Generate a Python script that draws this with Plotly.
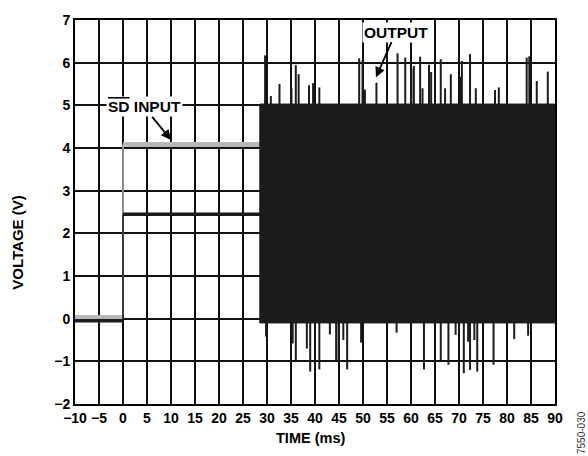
import plotly.graph_objects as go

# ---------------- data ----------------
x_ticks = list(range(-10, 95, 5))
x_ticktext = ["\u221210", "\u22125", "0", "5", "10", "15", "20", "25", "30", "35", "40",
              "45", "50", "55", "60", "65", "70", "75", "80", "85", "90"]
y_ticks = list(range(-2, 8))
y_ticktext = ["\u22122", "\u22121", "0", "1", "2", "3", "4", "5", "6", "7"]

# SD input (gray) step
sd_time = [-10, 0, 0, 28.7]
sd_volt = [0.04, 0.04, 4.08, 4.08]

# Output before switching (black)
out_time = [-10, 0, 0, 28.7]
out_volt = [-0.05, -0.05, 2.45, 2.45]

# Output switching envelope (dense PWM: 0 V <-> 5 V)
band_start, band_end = 28.5, 90.0
band_low, band_high = -0.1, 5.03

# Ringing spikes above the 5 V rail: (time ms, peak V)
spike_up_t = [29.6, 30.8, 32.6, 35.1, 36.0, 36.6, 38.75, 39.6, 40.9, 49.2, 49.9, 50.4,
              52.8, 57.2, 58.8, 60.1, 60.6, 61.9, 62.4, 63.75, 64.2, 66.2, 67.1, 68.3,
              70.4, 70.6, 72.3, 73.5, 77.5, 78.3, 84.1, 84.65, 86.2, 88.5]
spike_up_v = [6.17, 5.22, 5.5, 5.4, 5.94, 5.73, 5.47, 5.52, 5.42, 6.1, 6.06, 5.37,
              5.53, 6.22, 6.12, 5.86, 5.92, 6.14, 5.4, 5.95, 5.78, 6.08, 5.4, 5.73,
              5.67, 6.04, 6.2, 5.4, 5.36, 5.42, 6.12, 6.15, 5.57, 5.79]

# Ringing spikes below the 0 V rail
spike_dn_t = [29.8, 35.35, 36.0, 38.3, 39.0, 40.9, 43.1, 44.4, 44.9, 45.9, 46.7, 49.6,
              57.0, 62.7, 66.2, 67.8, 69.3, 71.0, 71.9, 72.3, 73.2, 73.8, 77.2, 81.5, 84.4]
spike_dn_v = [-0.42, -0.58, -1.0, -0.7, -1.24, -1.19, -0.37, -1.0, -1.0, -0.5, -1.19, -0.56,
              -0.33, -1.19, -0.98, -1.08, -0.38, -1.28, -0.54, -1.2, -0.5, -1.24, -1.08, -0.48, -0.4]

GRAY = "#b9b9b9"
BLACK = "#1c1c1c"
FONT = "Liberation Sans, Arial, sans-serif"

fig = go.Figure()

# gray SD input: thick horizontal parts, thin vertical edge
fig.add_trace(go.Scatter(x=sd_time[:2], y=sd_volt[:2], mode="lines",
                         line=dict(color=GRAY, width=4), hoverinfo="skip"))
fig.add_trace(go.Scatter(x=sd_time[1:3], y=sd_volt[1:3], mode="lines",
                         line=dict(color=GRAY, width=1.5), hoverinfo="skip"))
fig.add_trace(go.Scatter(x=sd_time[2:], y=sd_volt[2:], mode="lines",
                         line=dict(color=GRAY, width=5), hoverinfo="skip"))

# black output before switching
fig.add_trace(go.Scatter(x=out_time[:2], y=out_volt[:2], mode="lines",
                         line=dict(color=BLACK, width=3.5), hoverinfo="skip"))
fig.add_trace(go.Scatter(x=out_time[1:3], y=out_volt[1:3], mode="lines",
                         line=dict(color=BLACK, width=1.5), hoverinfo="skip"))
fig.add_trace(go.Scatter(x=out_time[2:], y=out_volt[2:], mode="lines",
                         line=dict(color=BLACK, width=3.5), hoverinfo="skip"))

# switching envelope
fig.add_trace(go.Scatter(
    x=[band_start, band_end, band_end, band_start, band_start],
    y=[band_low, band_low, band_high, band_high, band_low],
    mode="lines", fill="toself", fillcolor=BLACK,
    line=dict(color=BLACK, width=1), hoverinfo="skip"))

# spikes
sx, sy = [], []
for t, v in zip(spike_up_t, spike_up_v):
    sx += [t, t, None]
    sy += [band_high, v, None]
for t, v in zip(spike_dn_t, spike_dn_v):
    sx += [t, t, None]
    sy += [band_low, v, None]
fig.add_trace(go.Scatter(x=sx, y=sy, mode="lines",
                         line=dict(color=BLACK, width=2), hoverinfo="skip"))

axis_common = dict(showgrid=True, gridcolor="#111111", gridwidth=1.5,
                   showline=True, linecolor="black", linewidth=2, mirror=True,
                   zeroline=False, ticks="",
                   tickfont=dict(family=FONT, size=14, color="black", weight="bold"))

fig.update_layout(
    width=588, height=456,
    margin=dict(l=75, r=33, t=20, b=52),
    paper_bgcolor="white", plot_bgcolor="white",
    showlegend=False,
    font=dict(family=FONT, color="black"),
    xaxis=dict(range=[-10, 90], tickvals=x_ticks, ticktext=x_ticktext, **axis_common),
    yaxis=dict(range=[-2, 7], tickvals=y_ticks, ticktext=y_ticktext, **axis_common),
)

# axis titles
fig.add_annotation(x=0.49, y=0, xref="paper", yref="paper", yshift=-34,
                   xanchor="center", yanchor="middle", showarrow=False,
                   text="TIME (ms)",
                   font=dict(family=FONT, size=14.5, color="black", weight="bold"))
fig.add_annotation(x=0, y=0.42, xref="paper", yref="paper", xshift=-57,
                   xanchor="center", yanchor="middle", showarrow=False,
                   text="VOLTAGE (V)", textangle=-90,
                   font=dict(family=FONT, size=15, color="black", weight="bold"))

# callouts
fig.add_annotation(x=10, y=4.19, xref="x", yref="y",
                   text="<span style='text-decoration:overline'>SD</span> INPUT",
                   showarrow=True, arrowhead=2, arrowsize=1.1, arrowwidth=1.8,
                   arrowcolor="black", ax=-27, ay=-33, bgcolor="white",
                   font=dict(family=FONT, size=15.5, color="black", weight="bold"))
fig.add_annotation(x=52.7, y=5.66, xref="x", yref="y",
                   text="OUTPUT",
                   showarrow=True, arrowhead=2, arrowsize=1.1, arrowwidth=1.8,
                   arrowcolor="black", ax=20, ay=-45, bgcolor="white",
                   font=dict(family=FONT, size=15.5, color="black", weight="bold"))
fig.add_annotation(x=1.0, y=0.0, xref="paper", yref="paper",
                   xanchor="left", yanchor="bottom", xshift=19, yshift=-52,
                   text="7550-030", textangle=-90, showarrow=False,
                   font=dict(family=FONT, size=10, color="#333333"))

fig.write_html("out.html")
